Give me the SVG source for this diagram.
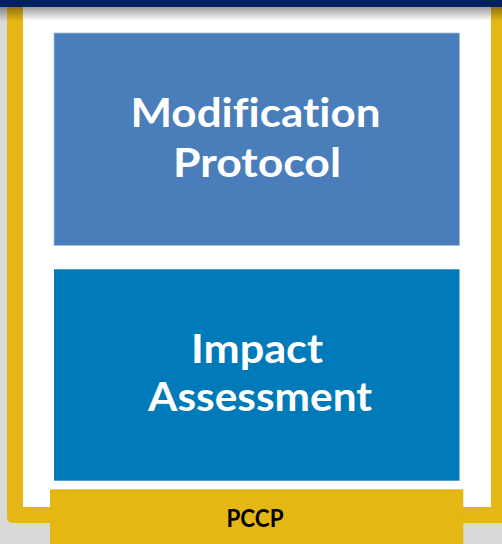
<svg xmlns="http://www.w3.org/2000/svg" width="502" height="544" viewBox="0 0 502 544">
<defs>
<linearGradient id="shadow" x1="0" y1="0" x2="0" y2="1">
<stop offset="0" stop-color="#000" stop-opacity="0.38"/>
<stop offset="1" stop-color="#000" stop-opacity="0"/>
</linearGradient>
<style>
.big{font-family:Lato,"Open Sans",sans-serif;font-weight:bold;font-size:39.5px;fill:#ffffff;text-anchor:middle;font-variant-ligatures:none}
.tab{font-family:Lato,"Open Sans",sans-serif;font-weight:bold;font-size:25px;fill:#000000;text-anchor:middle}
</style>
</defs>
<rect x="0" y="0" width="502" height="544" fill="#d9d9d9"/>
<g id="frame">
<rect x="7" y="-20" width="520" height="543" rx="5" fill="#e5b714"/>
<rect x="23" y="0" width="468" height="507" fill="#ffffff"/>
</g>
<g id="modification-protocol">
<rect x="54" y="33" width="405.5" height="212.5" fill="#4a7ebb" stroke="#a9c1e0" stroke-width="0.8"/>
<text class="big"><tspan x="255.5" y="127" textLength="250" lengthAdjust="spacingAndGlyphs">Modification</tspan><tspan x="257" y="177" textLength="168" lengthAdjust="spacingAndGlyphs">Protocol</tspan></text>
</g>
<g id="impact-assessment">
<rect x="54" y="269.3" width="405.5" height="211.4" fill="#007ab9"/>
<text class="big"><tspan x="257" y="363" textLength="132" lengthAdjust="spacingAndGlyphs">Impact</tspan><tspan x="260" y="411" textLength="224" lengthAdjust="spacingAndGlyphs">Assessment</tspan></text>
</g>
<g id="pccp">
<rect x="50" y="489.3" width="413.3" height="60" fill="#e5b714"/>
<text class="tab" x="255" y="527" textLength="57" lengthAdjust="spacingAndGlyphs">PCCP</text>
</g>
<g id="connectors"/>
<rect x="0" y="0" width="502" height="7" fill="#00205f"/>
<rect x="0" y="7" width="502" height="14" fill="url(#shadow)"/>
</svg>
